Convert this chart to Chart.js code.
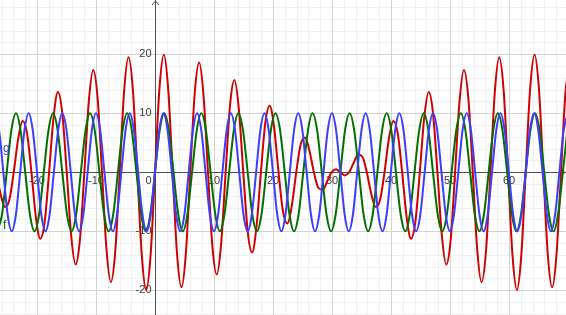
<!DOCTYPE html>
<html>
<head>
<meta charset="utf-8">
<script src="https://cdn.jsdelivr.net/npm/chart.js@4"></script>
<style>
html,body{margin:0;padding:0;background:#fff;overflow:hidden;}
#wrap{width:566px;height:315px;position:relative;}
</style>
</head>
<body>
<div id="wrap"><canvas id="c" width="566" height="315"></canvas></div>
<script>
// f (green)
const fX = [-26.70,-25.92,-25.13,-24.35,-23.56,-22.78,-21.99,-21.21,-20.42,-19.63,-18.85,-18.06,-17.28,-16.49,-15.71,-14.92,-14.14,-13.35,-12.57,-11.78,-11.00,-10.21,-9.42,-8.64,-7.85,-7.07,-6.28,-5.50,-4.71,-3.93,-3.14,-2.36,-1.57,-0.79,
0,0.79,1.57,2.36,3.14,3.93,4.71,5.50,6.28,7.07,7.85,8.64,9.42,10.21,11.00,11.78,12.57,13.35,14.14,14.92,15.71,16.49,17.28,18.06,18.85,19.63,20.42,21.21,21.99,22.78,23.56,24.35,25.13,25.92,26.70,27.49,28.27,29.06,29.85,30.63,31.42,32.20,32.99,33.77,34.56,35.34,36.13,36.91,37.70,38.48,39.27,40.06,40.84,41.63,42.41,43.20,43.98,44.77,45.55,46.34,47.12,47.91,48.69,49.48,50.27,51.05,51.84,52.62,53.41,54.19,54.98,55.76,56.55,57.33,58.12,58.90,59.69,60.48,61.26,62.05,62.83,63.62,64.40,65.19,65.97,66.76,67.54,68.33,69.12,69.90];
const fY = [
-10,-7.07,0,7.07,10,7.07,0,-7.07,
-10,-7.07,0,7.07,10,7.07,0,-7.07,
-10,-7.07,0,7.07,10,7.07,0,-7.07,
-10,-7.07,0,7.07,10,7.07,0,-7.07,
-10,-7.07,0,7.07,10,7.07,0,-7.07,
-10,-7.07,0,7.07,10,7.07,0,-7.07,
-10,-7.07,0,7.07,10,7.07,0,-7.07,
-10,-7.07,0,7.07,10,7.07,0,-7.07,
-10,-7.07,0,7.07,10,7.07,0,-7.07,
-10,-7.07,0,7.07,10,7.07,0,-7.07,
-10,-7.07,0,7.07,10,7.07,0,-7.07,
-10,-7.07,0,7.07,10,7.07,0,-7.07,
-10,-7.07,0,7.07,10,7.07,0,-7.07,
-10,-7.07,0,7.07,10,7.07,0,-7.07,
-10,-7.07,0,7.07,10,7.07,0,-7.07,
-10,-7.07,0,7.07];

// g (blue)
const gX = [-27.13,-26.42,-25.70,-24.99,-24.28,-23.56,-22.85,-22.13,-21.42,-20.71,-19.99,-19.28,-18.56,-17.85,-17.14,-16.42,-15.71,-14.99,-14.28,-13.57,-12.85,-12.14,-11.42,-10.71,-10.00,-9.28,-8.57,-7.85,-7.14,-6.43,-5.71,-5.00,-4.28,-3.57,-2.86,-2.14,-1.43,-0.71,
0,0.71,1.43,2.14,2.86,3.57,4.28,5.00,5.71,6.43,7.14,7.85,8.57,9.28,10.00,10.71,11.42,12.14,12.85,13.57,14.28,14.99,15.71,16.42,17.14,17.85,18.56,19.28,19.99,20.71,21.42,22.13,22.85,23.56,24.28,24.99,25.70,26.42,27.13,27.85,28.56,29.27,29.99,30.70,31.42,32.13,32.84,33.56,34.27,34.99,35.70,36.41,37.13,37.84,38.56,39.27,39.98,40.70,41.41,42.13,42.84,43.55,44.27,44.98,45.70,46.41,47.12,47.84,48.55,49.27,49.98,50.69,51.41,52.12,52.84,53.55,54.26,54.98,55.69,56.41,57.12,57.83,58.55,59.26,59.98,60.69,61.40,62.12,62.83,63.54,64.26,64.97,65.69,66.40,67.12,67.83,68.54,69.26,69.97];
const gY = [
10,7.07,0,-7.07,-10,-7.07,0,7.07,
10,7.07,0,-7.07,-10,-7.07,0,7.07,
10,7.07,0,-7.07,-10,-7.07,0,7.07,
10,7.07,0,-7.07,-10,-7.07,0,7.07,
10,7.07,0,-7.07,-10,-7.07,0,7.07,
10,7.07,0,-7.07,-10,-7.07,0,7.07,
10,7.07,0,-7.07,-10,-7.07,0,7.07,
10,7.07,0,-7.07,-10,-7.07,0,7.07,
10,7.07,0,-7.07,-10,-7.07,0,7.07,
10,7.07,0,-7.07,-10,-7.07,0,7.07,
10,7.07,0,-7.07,-10,-7.07,0,7.07,
10,7.07,0,-7.07,-10,-7.07,0,7.07,
10,7.07,0,-7.07,-10,-7.07,0,7.07,
10,7.07,0,-7.07,-10,-7.07,0,7.07,
10,7.07,0,-7.07,-10,-7.07,0,7.07,
10,7.07,0,-7.07,-10,-7.07,0,7.07,
10,7.07,0,-7.07,-10,-7.07,0,7.07,
10];

// f + g (red)
const hX = [-26.93,-26.18,-25.43,-24.68,-23.94,-23.19,-22.44,-21.69,-20.94,-20.20,-19.45,-18.70,-17.95,-17.20,-16.46,-15.71,-14.96,-14.21,-13.46,-12.72,-11.97,-11.22,-10.47,-9.72,-8.98,-8.23,-7.48,-6.73,-5.98,-5.24,-4.49,-3.74,-2.99,-2.24,-1.50,-0.75,
0,0.75,1.50,2.24,2.99,3.74,4.49,5.24,5.98,6.73,7.48,8.23,8.98,9.72,10.47,11.22,11.97,12.72,13.46,14.21,14.96,15.71,16.46,17.20,17.95,18.70,19.45,20.20,20.94,21.69,22.44,23.19,23.94,24.68,25.43,26.18,26.93,27.68,28.42,29.17,29.92,30.67,31.42,32.16,32.91,33.66,34.41,35.16,35.90,36.65,37.40,38.15,38.90,39.64,40.39,41.14,41.89,42.64,43.38,44.13,44.88,45.63,46.38,47.12,47.87,48.62,49.37,50.12,50.86,51.61,52.36,53.11,53.86,54.60,55.35,56.10,56.85,57.60,58.34,59.09,59.84,60.59,61.34,62.08,62.83,63.58,64.33,65.08,65.82,66.57,67.32,68.07,68.82,69.56,70.31];
const hY = [0,-3.66,-5.90,-4.67,0,5.66,8.68,6.61,0,-7.52,-11.27,-8.40,0,9.23,13.60,10.00,0,-10.72,-15.64,-11.38,0,11.97,17.32,12.50,0,-12.96,-18.62,-13.35,0,13.66,19.50,13.90,0,-14.05,-19.94,-14.13,
0,14.13,19.94,14.05,0,-13.90,-19.50,-13.66,0,13.35,18.62,12.96,0,-12.50,-17.32,-11.97,0,11.38,15.64,10.72,0,-10.00,-13.60,-9.23,0,8.40,11.27,7.52,0,-6.61,-8.68,-5.66,0,4.67,5.90,3.66,0,-2.63,-2.98,-1.58,0,0.53,0,-0.53,0,1.58,2.98,2.63,0,-3.66,-5.90,-4.67,0,5.66,8.68,6.61,0,-7.52,-11.27,-8.40,0,9.23,13.60,10.00,0,-10.72,-15.64,-11.38,0,11.97,17.32,12.50,0,-12.96,-18.62,-13.35,0,13.66,19.50,13.90,0,-14.05,-19.94,-14.13,0,14.13,19.94,14.05,0,-13.90,-19.50,-13.66,0,13.35,18.62];

const xTickLabels = [-20,-10,10,20,30,40,50,60];
const yTickLabels = [20,10,-10,-20];

function pts(xs, ys){
  const n = Math.min(xs.length, ys.length);
  const out = [];
  for (let i = 0; i < n; i++) out.push({x: xs[i], y: ys[i]});
  return out;
}

const axesPlugin = {
  id: 'geoAxes',
  beforeDatasetsDraw(chart){
    const ctx = chart.ctx, xs = chart.scales.x, ys = chart.scales.y;
    const W = chart.width, H = chart.height;
    ctx.save();
    ctx.lineWidth = 1;
    // minor grid
    ctx.strokeStyle = '#f1f1f1';
    ctx.beginPath();
    for (let v = -26; v <= 70; v += 2){ if (v % 10 === 0) continue; const p = Math.round(xs.getPixelForValue(v)) + 0.5; ctx.moveTo(p,0); ctx.lineTo(p,H); }
    for (let v = -24; v <= 30; v += 2){ if (v % 10 === 0) continue; const p = Math.round(ys.getPixelForValue(v)) + 0.5; ctx.moveTo(0,p); ctx.lineTo(W,p); }
    ctx.stroke();
    // major grid
    ctx.strokeStyle = '#d4d4d4';
    ctx.beginPath();
    for (let v = -20; v <= 70; v += 10){ if (v === 0) continue; const p = Math.round(xs.getPixelForValue(v)) + 0.5; ctx.moveTo(p,0); ctx.lineTo(p,H); }
    for (let v = -20; v <= 30; v += 10){ if (v === 0) continue; const p = Math.round(ys.getPixelForValue(v)) + 0.5; ctx.moveTo(0,p); ctx.lineTo(W,p); }
    ctx.stroke();
    // axes
    const ax = Math.round(xs.getPixelForValue(0)) + 0.5;
    const ay = Math.round(ys.getPixelForValue(0)) + 0.5;
    ctx.strokeStyle = '#505050';
    ctx.beginPath();
    ctx.moveTo(ax, 0); ctx.lineTo(ax, H);
    ctx.moveTo(0, ay); ctx.lineTo(W, ay);
    // arrows
    ctx.moveTo(ax-3.5, 5); ctx.lineTo(ax, 1); ctx.lineTo(ax+3.5, 5);
    ctx.moveTo(W-5, ay-3.5); ctx.lineTo(W-1, ay); ctx.lineTo(W-5, ay+3.5);
    ctx.stroke();
    // tick labels
    ctx.fillStyle = '#3a3a3a';
    ctx.font = '11px "Liberation Sans", Arial, sans-serif';
    ctx.textAlign = 'center'; ctx.textBaseline = 'top';
    xTickLabels.forEach(v => ctx.fillText(String(v), xs.getPixelForValue(v), ay + 3));
    ctx.textAlign = 'right'; ctx.textBaseline = 'middle';
    yTickLabels.forEach(v => ctx.fillText(String(v), ax - 4, ys.getPixelForValue(v)));
    ctx.textBaseline = 'top';
    ctx.fillText('0', ax - 4, ay + 3);
    ctx.restore();
  },
  afterDatasetsDraw(chart){
    const ctx = chart.ctx;
    ctx.save();
    ctx.font = '12px "Liberation Sans", Arial, sans-serif';
    ctx.textAlign = 'left'; ctx.textBaseline = 'alphabetic';
    ctx.fillStyle = '#3a3aff';
    ctx.fillText('g', 3, 152);
    ctx.fillStyle = '#006b00';
    ctx.fillText('f', 3, 229);
    ctx.restore();
  }
};

new Chart(document.getElementById('c'), {
  type: 'line',
  data: {
    datasets: [
      {label:'g', data: pts(gX, gY), borderColor:'#3d3dff', borderWidth:2, pointRadius:0, cubicInterpolationMode:'monotone', fill:false},
      {label:'f', data: pts(fX, fY), borderColor:'#007000', borderWidth:2, pointRadius:0, cubicInterpolationMode:'monotone', fill:false},
      {label:'h', data: pts(hX, hY), borderColor:'#d00000', borderWidth:2, pointRadius:0, cubicInterpolationMode:'monotone', fill:false}
    ]
  },
  options: {
    responsive: false,
    devicePixelRatio: 1,
    animation: false,
    layout: {padding: 0},
    plugins: {legend:{display:false}, tooltip:{enabled:false}},
    events: [],
    scales: {
      x: {type:'linear', min:-26.27, max:69.66, display:false},
      y: {type:'linear', min:-24.19, max:29.2, display:false}
    }
  },
  plugins: [axesPlugin]
});
</script>
</body>
</html>
